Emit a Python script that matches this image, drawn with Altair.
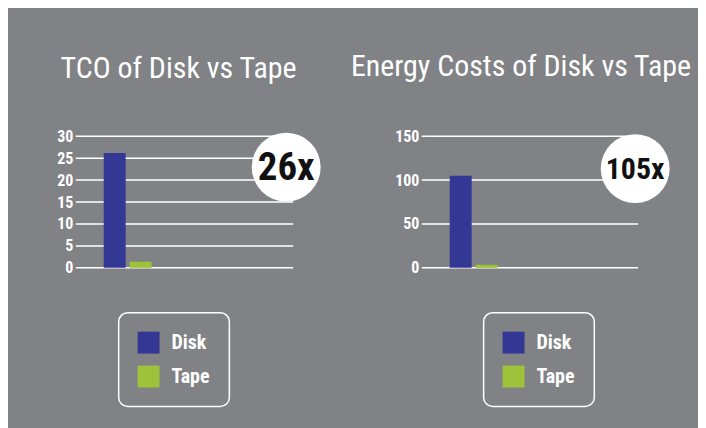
import altair as alt
import pandas as pd

# ---- data ----
series = ["Disk", "Tape"]
tco_values = [26.2, 1.4]
energy_values = [105, 3.5]
panel_titles = ["TCO of Disk vs Tape", "Energy Costs of Disk vs Tape"]
badge_labels = ["26x", "105x"]
tco_ticks = [0, 5, 10, 15, 20, 25, 30]
energy_ticks = [0, 50, 100, 150]
series_colors = ["#343895", "#9dc33b"]

BG = "#808285"
FONT = "Roboto Condensed, DejaVu Sans Condensed, Liberation Sans Narrow, Roboto, sans-serif"


def panel(values, ticks, title, badge, badge_size, width, title_dx, title_offset,
          legend_x, legend_y, badge_x, badge_y):
    df = pd.DataFrame({"series": series, "value": values})
    tick_df = pd.DataFrame({"tick": ticks})
    yscale = alt.Scale(domain=[ticks[0], ticks[-1]], nice=False)
    yaxis = alt.Axis(values=ticks, title=None, domain=False, ticks=False,
                     grid=False, labelColor="white", labelFont=FONT,
                     labelFontSize=16, labelFontWeight="bold", labelPadding=3)
    grid = alt.Chart(tick_df).mark_rule(color="white", strokeWidth=1.5).encode(
        y=alt.Y("tick:Q", scale=yscale, axis=yaxis),
        x=alt.value(0), x2=alt.value(width))
    x = alt.X("series:N", axis=None, sort=series,
              scale=alt.Scale(domain=series, range=[28, 76],
                              paddingInner=0.154, paddingOuter=0))
    y = alt.Y("value:Q", scale=yscale, axis=yaxis)
    color = alt.Color("series:N",
                      scale=alt.Scale(domain=series, range=series_colors),
                      legend=alt.Legend(title=None, orient="none",
                                        legendX=legend_x, legendY=legend_y,
                                        symbolType="square", symbolSize=484,
                                        symbolStrokeWidth=0, symbolOpacity=1,
                                        labelFont=FONT, labelFontSize=20,
                                        labelFontWeight="bold",
                                        labelColor="white", labelOffset=12,
                                        rowPadding=12, padding=19,
                                        cornerRadius=9, strokeColor="white"))
    bars = alt.Chart(df).mark_bar().encode(x=x, y=y, color=color)
    badge_df = pd.DataFrame({"label": [badge]})
    circle = alt.Chart(badge_df).mark_circle(size=4778, color="white", opacity=1).encode(
        x=alt.value(badge_x), y=alt.value(badge_y))
    text = alt.Chart(badge_df).mark_text(font=FONT, fontWeight="bold",
                                         fontSize=badge_size, color="#111111",
                                         align="center", baseline="middle").encode(
        x=alt.value(badge_x), y=alt.value(badge_y + 1), text="label:N")
    return alt.layer(grid, bars, circle, text).properties(
        width=width, height=132,
        title=alt.TitleParams(text=title, font=FONT, fontSize=30,
                              fontWeight="normal", color="white",
                              anchor="middle", frame="group",
                              baseline="alphabetic", dx=title_dx,
                              offset=title_offset))


p1 = panel(tco_values, tco_ticks, panel_titles[0], badge_labels[0], 39, 218,
           -6, 20, 43, 177, 211, 31)
p2 = panel(energy_values, energy_ticks, panel_titles[1], badge_labels[1], 30, 217,
           -9, 22, 62, 177, 214, 32.5)

chart = alt.hconcat(p1, p2, spacing=129, bounds="flush").resolve_scale(
    x="independent", y="independent", color="independent"
).resolve_legend(color="independent").properties(
    background=BG,
    padding={"left": 48, "top": 44, "right": 6, "bottom": 21},
).configure_view(stroke=None).configure_legend(strokeWidth=1.5)

chart.save("out.html", embed_options={"renderer": "svg", "actions": False})
